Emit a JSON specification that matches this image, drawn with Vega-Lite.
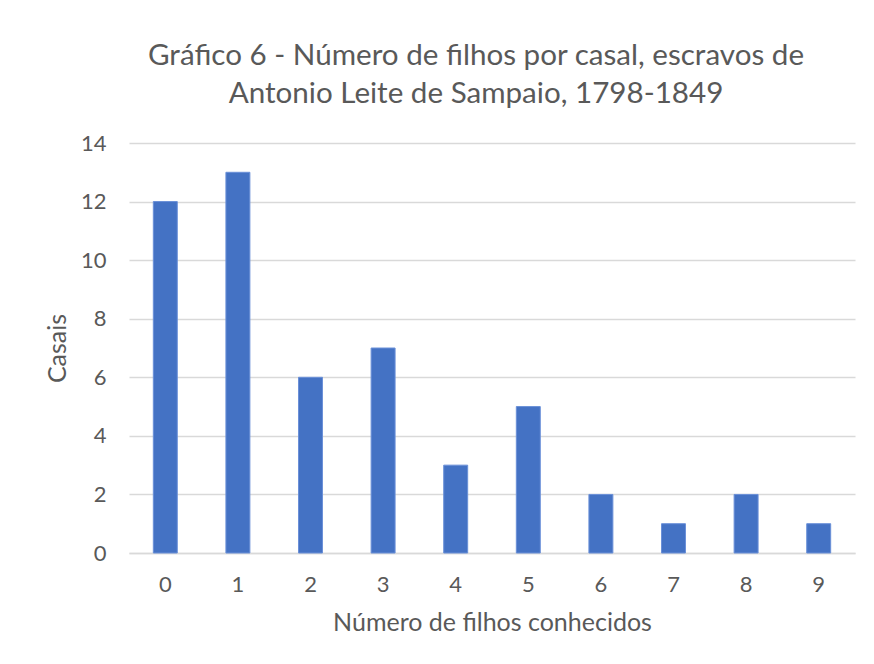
{
  "$schema": "https://vega.github.io/schema/vega-lite/v6.json",
  "width": 726,
  "height": 410,
  "autosize": {"type": "none"},
  "padding": {"left": 129, "top": 143, "right": 19, "bottom": 111},
  "background": "white",
  "title": {
    "text": ["Gráfico 6 - Número de filhos por casal, escravos de", "Antonio Leite de Sampaio, 1798-1849"],
    "font": "Lato",
    "fontSize": 29.6,
    "fontWeight": "normal",
    "color": "#595959",
    "anchor": "middle",
    "dx": -16,
    "offset": 22,
    "lineHeight": 38
  },
  "data": {
    "values": [
      {"filhos": "0", "casais": 12},
      {"filhos": "1", "casais": 13},
      {"filhos": "2", "casais": 6},
      {"filhos": "3", "casais": 7},
      {"filhos": "4", "casais": 3},
      {"filhos": "5", "casais": 5},
      {"filhos": "6", "casais": 2},
      {"filhos": "7", "casais": 1},
      {"filhos": "8", "casais": 2},
      {"filhos": "9", "casais": 1}
    ]
  },
  "mark": {"type": "bar", "color": "#4472C4", "stroke": "#6a90d8", "strokeWidth": 1},
  "encoding": {
    "x": {
      "field": "filhos",
      "type": "ordinal",
      "sort": null,
      "scale": {"paddingInner": 0.67, "paddingOuter": 0.335},
      "axis": {
        "title": "Número de filhos conhecidos",
        "labelAngle": 0,
        "ticks": false,
        "domainColor": "#d9d9d9",
        "domainWidth": 1.5,
        "labelPadding": 21,
        "titlePadding": 15
      }
    },
    "y": {
      "field": "casais",
      "type": "quantitative",
      "scale": {"domain": [0, 14]},
      "axis": {
        "title": "Casais",
        "values": [0, 2, 4, 6, 8, 10, 12, 14],
        "ticks": false,
        "domain": false,
        "gridColor": "#d9d9d9",
        "gridWidth": 1.5,
        "labelPadding": 23,
        "titlePadding": 10
      }
    }
  },
  "config": {
    "view": {"stroke": null},
    "axis": {
      "labelFont": "Lato",
      "labelFontSize": 22,
      "labelColor": "#595959",
      "titleFont": "Lato",
      "titleFontSize": 25,
      "titleFontWeight": "normal",
      "titleColor": "#595959"
    }
  }
}
